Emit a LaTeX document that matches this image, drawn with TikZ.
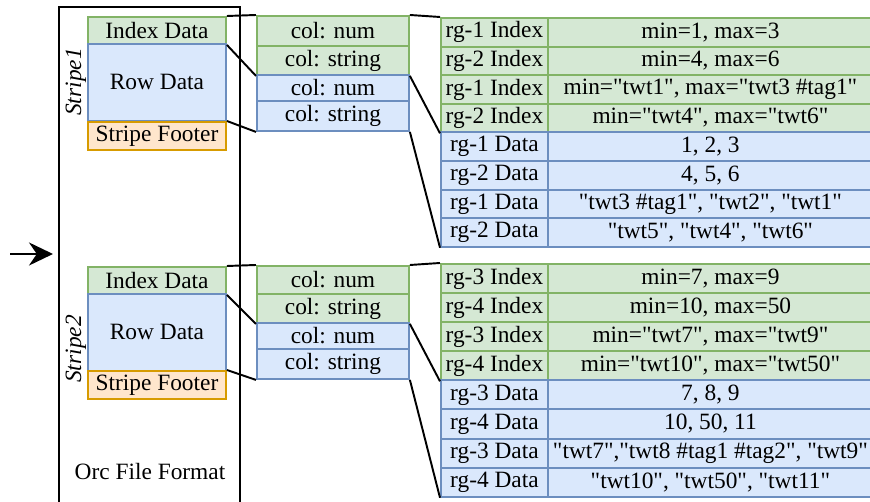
\documentclass[tikz,border=0pt]{standalone}
\usepackage{fontspec}
\setmainfont{Liberation Serif}[Ligatures=TeXOff]
\usetikzlibrary{arrows.meta}
\definecolor{idxfill}{HTML}{D5E8D4}
\definecolor{idxline}{HTML}{82B366}
\definecolor{datfill}{HTML}{DAE8FC}
\definecolor{datline}{HTML}{6C8EBF}
\definecolor{footfill}{HTML}{FFE6CC}
\definecolor{footline}{HTML}{D79B00}

\begin{document}
\begin{tikzpicture}[x=0.02cm, y=-0.02cm,
    font=\fontsize{13.3}{15}\selectfont,
    cell/.style={draw, line width=1.1pt, inner sep=0pt, anchor=north west},
    idx/.style={cell, draw=idxline, fill=idxfill},
    dat/.style={cell, draw=datline, fill=datfill},
    foot/.style={cell, draw=footline, fill=footfill},
    link/.style={line width=1.1pt}]
    \useasboundingbox (0,0) rectangle (870,502);
    \clip (0,0) rectangle (870,502);

    % file frame and input arrow
    \draw[line width=1.4pt] (59,7) rectangle (240,506);
    \node (orc) at (150,472) {Orc File Format};
    \coordinate (in) at (10,254);
    \coordinate (inend) at (53,254);
    \draw[line width=1.4pt, -{Stealth[length=0.48cm, width=0.46cm]}] (in) -- (inend);

    % stripe 1
    \node (idx1) at (87,16) [idx, minimum width=2.76cm, minimum height=0.54cm] {Index Data};
    \node (row1) at (87,43) [dat, minimum width=2.76cm, minimum height=1.54cm] {Row Data};
    \node (foot1) at (87,121) [foot, minimum width=2.76cm, minimum height=0.56cm] {Stripe Footer};
    \node (lab1) at (76,82) [rotate=90] {\itshape Stripe1};

    \node (cn1) at (256,15) [idx, minimum width=3.04cm, minimum height=0.6cm] {col: num};
    \node (cs1) at (256,45) [idx, minimum width=3.04cm, minimum height=0.58cm] {col: string};
    \node (dn1) at (256,74) [dat, minimum width=3.04cm, minimum height=0.52cm] {col: num};
    \node (ds1) at (256,100) [dat, minimum width=3.04cm, minimum height=0.6cm] {col: string};

    \foreach \g/\v [count=\k] in {rg-1 Index/{min=1, max=3}, rg-2 Index/{min=4, max=6},
        rg-1 Index/{min="twt1", max="twt3 \#tag1"}, rg-2 Index/{min="twt4", max="twt6"}} {
        \node (a\k) at (440, {17+(\k-1)*28.6}) [idx, minimum width=2.14cm, minimum height=0.572cm] {\g};
        \node (av\k) at (547, {17+(\k-1)*28.6}) [idx, minimum width=6.5cm, minimum height=0.572cm] {\v};
    }
    \foreach \g/\v [count=\k from 5] in {rg-1 Data/{1, 2, 3}, rg-2 Data/{4, 5, 6},
        rg-1 Data/{"twt3 \#tag1", "twt2", "twt1"}, rg-2 Data/{"twt5", "twt4", "twt6"}} {
        \node (a\k) at (440, {17+(\k-1)*28.6}) [dat, minimum width=2.14cm, minimum height=0.572cm] {\g};
        \node (av\k) at (547, {17+(\k-1)*28.6}) [dat, minimum width=6.5cm, minimum height=0.572cm] {\v};
    }

    \draw[link] (idx1.north east) -- (cn1.north west);
    \draw[link] (idx1.south east) -- (cs1.south west);
    \draw[link] (foot1.north east) -- (ds1.south west);
    \draw[link] (cn1.north east) -- (a1.north west);
    \draw[link] (cs1.south east) -- (a4.south west);
    \draw[link] (ds1.south east) -- (a8.south west);

    % stripe 2
    \node (idx2) at (87,266) [idx, minimum width=2.76cm, minimum height=0.54cm] {Index Data};
    \node (row2) at (87,293) [dat, minimum width=2.76cm, minimum height=1.54cm] {Row Data};
    \node (foot2) at (87,370) [foot, minimum width=2.76cm, minimum height=0.56cm] {Stripe Footer};
    \node (lab2) at (76,349) [rotate=90] {\itshape Stripe2};

    \node (cn2) at (256,265) [idx, minimum width=3.04cm, minimum height=0.56cm] {col: num};
    \node (cs2) at (256,293) [idx, minimum width=3.04cm, minimum height=0.58cm] {col: string};
    \node (dn2) at (256,322) [dat, minimum width=3.04cm, minimum height=0.52cm] {col: num};
    \node (ds2) at (256,348) [dat, minimum width=3.04cm, minimum height=0.6cm] {col: string};

    \foreach \g/\v [count=\k] in {rg-3 Index/{min=7, max=9}, rg-4 Index/{min=10, max=50},
        rg-3 Index/{min="twt7", max="twt9"}, rg-4 Index/{min="twt10", max="twt50"}} {
        \node (b\k) at (440, {263+(\k-1)*29.1}) [idx, minimum width=2.14cm, minimum height=0.582cm] {\g};
        \node (bv\k) at (547, {263+(\k-1)*29.1}) [idx, minimum width=6.5cm, minimum height=0.582cm] {\v};
    }
    \foreach \g/\v [count=\k from 5] in {rg-3 Data/{7, 8, 9}, rg-4 Data/{10, 50, 11},
        rg-3 Data/{"twt7","twt8 \#tag1 \#tag2", "twt9"}, rg-4 Data/{"twt10", "twt50", "twt11"}} {
        \node (b\k) at (440, {263+(\k-1)*29.1}) [dat, minimum width=2.14cm, minimum height=0.582cm] {\g};
        \node (bv\k) at (547, {263+(\k-1)*29.1}) [dat, minimum width=6.5cm, minimum height=0.582cm] {\v};
    }

    \draw[link] (idx2.north east) -- (cn2.north west);
    \draw[link] (idx2.south east) -- (cs2.south west);
    \draw[link] (foot2.north east) -- (ds2.south west);
    \draw[link] (cn2.north east) -- (b1.north west);
    \draw[link] (cs2.south east) -- (b4.south west);
    \draw[link] (ds2.south east) -- (b8.south west);
\end{tikzpicture}
\end{document}
